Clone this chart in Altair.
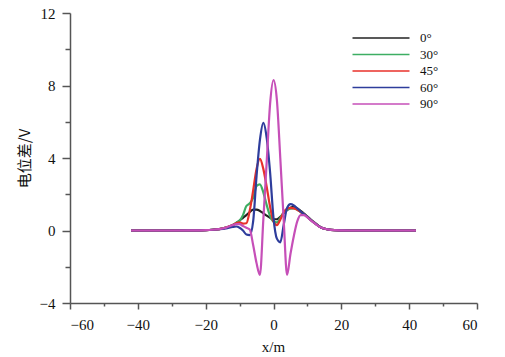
import altair as alt
import pandas as pd

xs = [-42, -30, -25, -20, -18, -16, -14, -12, -11, -10, -9, -8, -7, -6, -5, -4, -3, -2, -1, 0,
      1, 2, 3, 4, 5, 6, 7, 8, 9, 10, 11, 12, 14, 16, 18, 20, 25, 30, 42]

v0 = [0, 0, 0.005, 0.02, 0.04, 0.08, 0.16, 0.3, 0.42, 0.55, 0.7, 0.85, 1.02, 1.15, 1.15, 1.08, 0.95, 0.82, 0.7, 0.62,
      0.62, 0.75, 0.95, 1.12, 1.25, 1.3, 1.22, 1.08, 0.93, 0.77, 0.6, 0.45, 0.17, 0.06, 0.02, 0.01, 0, 0, 0]
v30 = [0, 0, 0.005, 0.02, 0.04, 0.08, 0.16, 0.3, 0.42, 0.55, 0.85, 1.35, 1.5, 1.8, 2.45, 2.55, 2.1, 1.4, 0.8, 0.5,
       0.45, 0.7, 1.0, 1.15, 1.2, 1.22, 1.15, 1.02, 0.9, 0.75, 0.58, 0.43, 0.16, 0.06, 0.02, 0.01, 0, 0, 0]
v45 = [0, 0, 0.005, 0.02, 0.04, 0.08, 0.16, 0.3, 0.4, 0.45, 0.38, 0.4, 1.1, 2.2, 3.4, 3.95, 3.4, 2.4, 1.3, 0.5,
       0.3, 0.6, 1.0, 1.2, 1.25, 1.22, 1.15, 1.02, 0.9, 0.75, 0.58, 0.43, 0.16, 0.06, 0.02, 0.01, 0, 0, 0]
v60 = [0, 0, 0.005, 0.02, 0.04, 0.07, 0.12, 0.2, 0.22, 0.15, 0.0, -0.22, -0.25, 0.5, 3.0, 5.0, 5.94, 5.1, 3.2, 0.7,
       -0.45, -0.65, 0.3, 1.25, 1.45, 1.38, 1.22, 1.05, 0.9, 0.75, 0.58, 0.43, 0.16, 0.06, 0.02, 0.01, 0, 0, 0]
v90 = [0, 0, 0.005, 0.02, 0.04, 0.08, 0.16, 0.3, 0.35, 0.35, 0.25, 0.15, 0.05, -0.8, -1.8, -2.45, 0.6, 3.8, 7.0, 8.3,
       7.2, 4.0, 0.6, -2.45, -1.3, -0.3, 0.5, 0.85, 0.85, 0.72, 0.56, 0.42, 0.16, 0.06, 0.02, 0.01, 0, 0, 0]

series = ["0°", "30°", "45°", "60°", "90°"]
colors = ["#222222", "#3dae63", "#e8302a", "#2e3d9c", "#c64fb8"]

rows = []
for name, vals in zip(series, [v0, v30, v45, v60, v90]):
    for i, (x, y) in enumerate(zip(xs, vals)):
        rows.append({"x": x, "y": y, "angle": name, "i": i})
df = pd.DataFrame(rows)

serif = "Times New Roman, Liberation Serif, serif"

chart = alt.Chart(df).mark_line(strokeWidth=2.2, interpolate="monotone").encode(
    x=alt.X("x:Q", scale=alt.Scale(domain=[-60, 60], nice=False),
            axis=alt.Axis(values=list(range(-60, 61, 10)),
                          labelExpr="datum.value % 20 === 0 ? datum.label : ''",
                          tickSize={"condition": {"test": "datum.value % 20 === 0", "value": 6}, "value": 3},
                          labelPadding=8, grid=False, labelFont=serif, labelFontSize=15,
                          title="x/m", titleX=203, titleY=43, titleBaseline="middle",
                          titleFontWeight="normal", titleFont=serif, titleFontSize=15)),
    y=alt.Y("y:Q", scale=alt.Scale(domain=[-4, 12], nice=False),
            axis=alt.Axis(values=list(range(-4, 13, 2)),
                          labelExpr="datum.value % 4 === 0 ? datum.label : ''",
                          tickSize={"condition": {"test": "datum.value % 4 === 0", "value": 8}, "value": 5},
                          labelPadding=7, grid=False, labelFont=serif, labelFontSize=15,
                          title="电位差/V", titleX=-46, titleY=145, titleBaseline="middle", titleAngle=-90,
                          titleFontWeight="normal", titleFont="Noto Sans CJK SC", titleFontSize=15)),
    color=alt.Color("angle:N", sort=series,
                    scale=alt.Scale(domain=series, range=colors),
                    legend=alt.Legend(title=None, orient="none", legendX=303, legendY=17,
                                      symbolType="M-4,0L4,0", symbolSize=203, symbolStrokeWidth=1.5,
                                      labelFont=serif, labelFontSize=13, labelOffset=31,
                                      rowPadding=1.5, padding=0)),
    order=alt.Order("i:Q"),
    detail="angle:N",
).properties(
    width=407, height=290,
    autosize=alt.AutoSizeParams(type="none"),
    padding={"left": 70, "top": 13, "right": 28, "bottom": 54},
).configure_axis(
    domainColor="#555555", domainWidth=1.5, tickColor="#555555", tickWidth=1.5,
    labelColor="#111111", titleColor="#111111",
).configure_legend(labelColor="#111111").configure_view(stroke=None)

chart.save("out.html", embed_options={"renderer": "svg", "actions": False})
